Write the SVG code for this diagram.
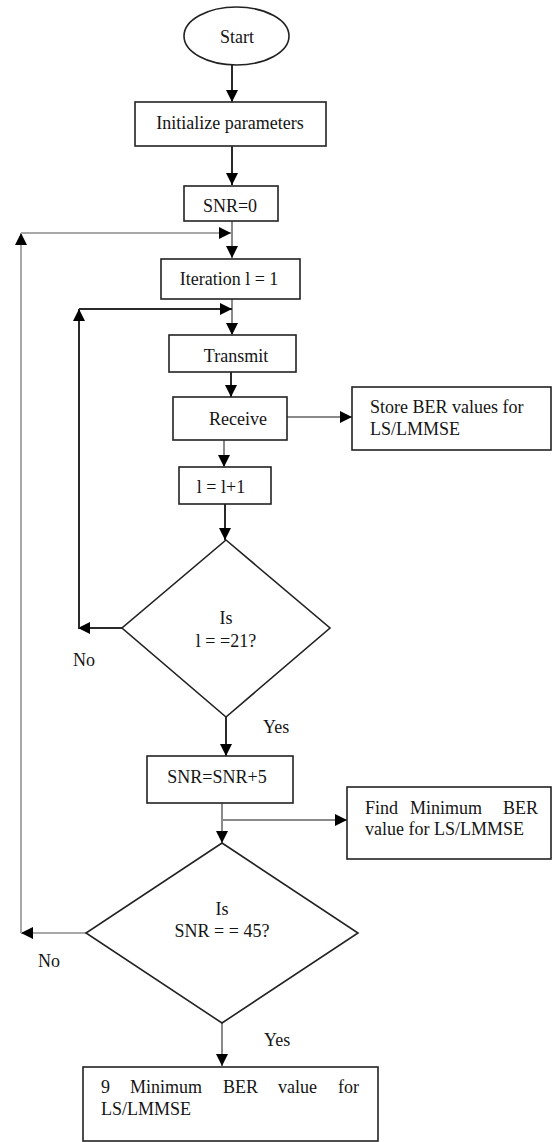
<svg xmlns="http://www.w3.org/2000/svg" width="554" height="1142" viewBox="0 0 554 1142">
<style>
.box{fill:#fff;stroke:#222;stroke-width:1.6}
.t{font-family:"Liberation Serif","Times New Roman",serif;font-size:18px;fill:#141414}
.c{text-anchor:middle}
.k{fill:none;stroke:#2a2a2a;stroke-width:2}
.g{fill:none;stroke:#8a8a8a;stroke-width:2}
.lg{fill:none;stroke:#a8a8a8;stroke-width:2}
</style>
<defs>
<marker id="ah" markerUnits="userSpaceOnUse" markerWidth="12" markerHeight="12" refX="12" refY="6" orient="auto">
<path d="M0,0 L12,6 L0,12 Z" fill="#000"/>
</marker>
</defs>
<rect width="554" height="1142" fill="#fff"/>
<g id="connectors">
<path class="k" d="M232,65 V102" marker-end="url(#ah)"/>
<path class="k" d="M232,146 V185" marker-end="url(#ah)"/>
<path class="g" d="M232,221 V258" marker-end="url(#ah)"/>
<path class="lg" d="M86,933 H21" marker-end="url(#ah)"/>
<path class="lg" d="M21,933 V233" marker-end="url(#ah)"/>
<path class="lg" d="M21,233 H231" marker-end="url(#ah)"/>
<path class="g" d="M232,299 V335" marker-end="url(#ah)"/>
<path class="k" d="M122,628 H78" marker-end="url(#ah)"/>
<path class="k" d="M79,628 V309" marker-end="url(#ah)"/>
<path class="k" d="M79,309 H232" marker-end="url(#ah)"/>
<path class="k" d="M231,372 V397" marker-end="url(#ah)"/>
<path class="g" d="M287,417 H352" marker-end="url(#ah)"/>
<path class="g" d="M224,440 V467" marker-end="url(#ah)"/>
<path class="k" d="M225,504 V540" marker-end="url(#ah)"/>
<path class="k" d="M226,717 V756" marker-end="url(#ah)"/>
<path class="g" d="M222,803 V843" marker-end="url(#ah)"/>
<path class="g" d="M222,820 H347" marker-end="url(#ah)"/>
<path class="g" d="M222,1023 V1066" marker-end="url(#ah)"/>
<text class="t" x="73" y="666">No</text>
<text class="t" x="263" y="733">Yes</text>
<text class="t" x="38" y="967">No</text>
<text class="t" x="264" y="1046">Yes</text>
</g>
<g id="start">
<ellipse class="box" cx="236.5" cy="36" rx="52.5" ry="29"/>
<text class="t c" x="237" y="43">Start</text>
</g>
<g id="init">
<rect class="box" x="135" y="102" width="191" height="44"/>
<text class="t c" x="230" y="129">Initialize parameters</text>
</g>
<g id="snr0">
<rect class="box" x="184" y="186" width="94" height="35"/>
<text class="t c" x="230" y="212">SNR=0</text>
</g>
<g id="iteration">
<rect class="box" x="161" y="259" width="139" height="40"/>
<text class="t c" x="229" y="285">Iteration l = 1</text>
</g>
<g id="transmit">
<rect class="box" x="169" y="335" width="127" height="37"/>
<text class="t c" x="236" y="362">Transmit</text>
</g>
<g id="receive">
<rect class="box" x="173" y="397" width="114" height="43"/>
<text class="t c" x="238" y="425">Receive</text>
</g>
<g id="store">
<rect class="box" x="352" y="387" width="199" height="63"/>
<text class="t" x="370" y="413">Store BER values for</text>
<text class="t" x="370" y="435">LS/LMMSE</text>
</g>
<g id="incr">
<rect class="box" x="179" y="467" width="92" height="37"/>
<text class="t c" x="221" y="493">l = l+1</text>
</g>
<g id="dec1">
<path class="box" d="M226,540 L330,628 L226,717 L122,628 Z"/>
<text class="t c" x="226" y="624">Is</text>
<text class="t c" x="226" y="647">l = =21?</text>
</g>
<g id="snrinc">
<rect class="box" x="147" y="756" width="146" height="47"/>
<text class="t c" x="217" y="783">SNR=SNR+5</text>
</g>
<g id="find">
<rect class="box" x="347" y="787" width="204" height="72"/>
<text class="t" y="814"><tspan x="365">Find</tspan><tspan x="410">Minimum</tspan><tspan x="503">BER</tspan></text>
<text class="t" x="365" y="835">value for LS/LMMSE</text>
</g>
<g id="dec2">
<path class="box" d="M222,843 L358,933 L222,1023 L86,933 Z"/>
<text class="t c" x="222" y="915">Is</text>
<text class="t c" x="222" y="937">SNR = = 45?</text>
</g>
<g id="final">
<rect class="box" x="83" y="1067" width="295" height="74"/>
<text class="t" y="1093"><tspan x="101">9</tspan><tspan x="130">Minimum</tspan><tspan x="223">BER</tspan><tspan x="278">value</tspan><tspan x="338">for</tspan></text>
<text class="t" x="101" y="1115">LS/LMMSE</text>
</g>
</svg>
